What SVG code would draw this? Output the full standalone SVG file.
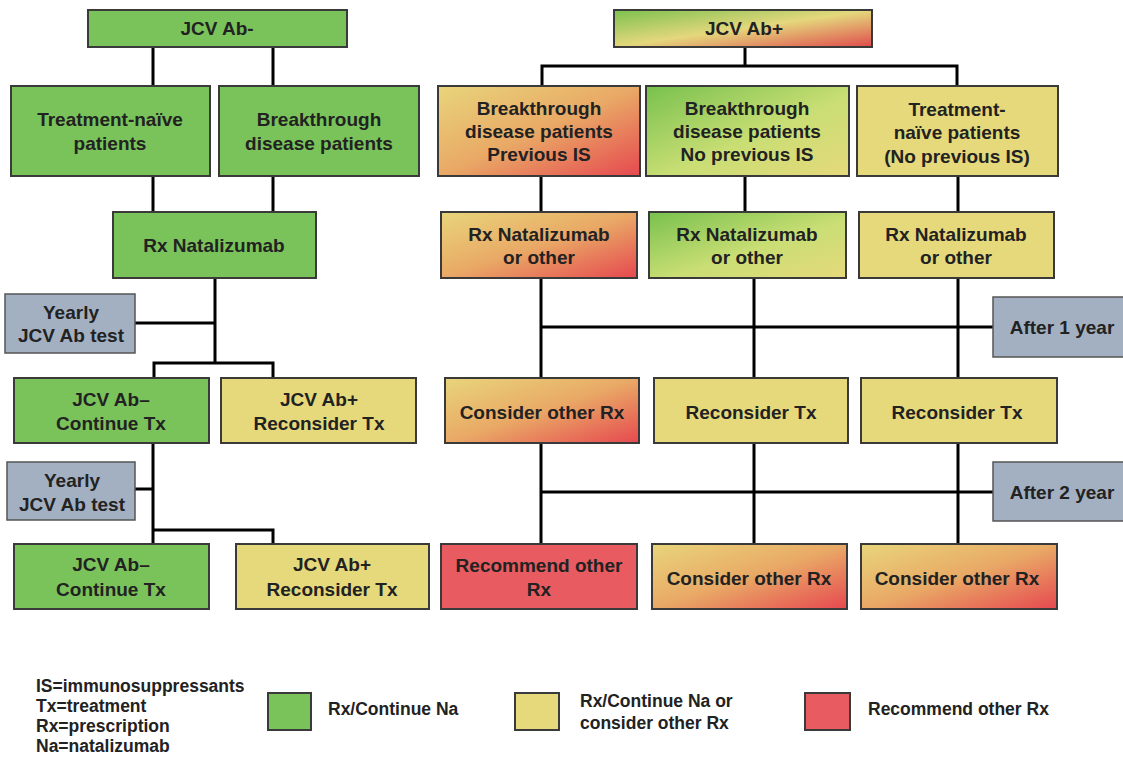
<svg xmlns="http://www.w3.org/2000/svg" width="1123" height="758" viewBox="0 0 1123 758">
<style>
.box{stroke:#3a3a3a;stroke-width:2}
.g{fill:#7AC35B}
.y{fill:#E6D97B}
.r{fill:#E85B60}
.b{fill:#A2B0C1;stroke:#555;stroke-width:1.5}
.t{font-family:"Liberation Sans",Arial,sans-serif;font-weight:bold;font-size:19px;fill:#222;text-anchor:middle}
.l{font-family:"Liberation Sans",Arial,sans-serif;font-weight:bold;font-size:17.5px;fill:#222}
.c{fill:none;stroke:#000;stroke-width:3}
</style>
<defs>
<linearGradient id="gyr" x1="0" y1="0" x2="1" y2="1">
<stop offset="0" stop-color="#7CC14F"/>
<stop offset="0.5" stop-color="#E4D77C"/>
<stop offset="1" stop-color="#E04B4C"/>
</linearGradient>
<linearGradient id="yr" x1="0" y1="0" x2="1" y2="1">
<stop offset="0" stop-color="#E8D57B"/>
<stop offset="0.5" stop-color="#E9A966"/>
<stop offset="1" stop-color="#E6484F"/>
</linearGradient>
<linearGradient id="gy" x1="0" y1="0" x2="1" y2="1">
<stop offset="0" stop-color="#78C14E"/>
<stop offset="0.55" stop-color="#C9DE74"/>
<stop offset="1" stop-color="#E6D97B"/>
</linearGradient>
</defs>
<g id="connectors">
<path class="c" d="M153,47V86M273,47V86"/>
<path class="c" d="M153,176V212M273,176V212"/>
<path class="c" d="M215,278V363M135,323H215M154,378V363H273V378"/>
<path class="c" d="M153,443V544M135,489H153M153,530H273V544"/>
<path class="c" d="M745,47V66M542,86V66H957V86"/>
<path class="c" d="M541,176V212M745,176V212M958,176V212"/>
<path class="c" d="M541,278V378M754,278V378M958,278V378M541,327H994"/>
<path class="c" d="M541,443V544M754,443V544M958,443V544M541,492H994"/>
</g>
<g id="jcv-neg"><rect class="box g" x="88" y="10" width="259" height="37"/><text class="t" x="217" y="35">JCV Ab-</text></g>
<g id="naive-left"><rect class="box g" x="11" y="86" width="199" height="90"/><text class="t" x="110" y="126">Treatment-naïve</text><text class="t" x="110" y="150">patients</text></g>
<g id="breakthrough-left"><rect class="box g" x="219" y="86" width="200" height="90"/><text class="t" x="319" y="126">Breakthrough</text><text class="t" x="319" y="150">disease patients</text></g>
<g id="rx-nat"><rect class="box g" x="113" y="212" width="203" height="66"/><text class="t" x="214" y="252">Rx Natalizumab</text></g>
<g id="yearly1"><rect class="b" x="5" y="294" width="130" height="59"/><text class="t" x="71" y="319">Yearly</text><text class="t" x="71" y="342">JCV Ab test</text></g>
<g id="neg-cont1"><rect class="box g" x="14" y="378" width="195" height="65"/><text class="t" x="111" y="406">JCV Ab–</text><text class="t" x="111" y="430">Continue Tx</text></g>
<g id="pos-recon1"><rect class="box y" x="221" y="378" width="195" height="65"/><text class="t" x="319" y="406">JCV Ab+</text><text class="t" x="319" y="430">Reconsider Tx</text></g>
<g id="yearly2"><rect class="b" x="7" y="462" width="128" height="58"/><text class="t" x="72" y="487">Yearly</text><text class="t" x="72" y="511">JCV Ab test</text></g>
<g id="neg-cont2"><rect class="box g" x="14" y="544" width="195" height="65"/><text class="t" x="111" y="571">JCV Ab–</text><text class="t" x="111" y="596">Continue Tx</text></g>
<g id="pos-recon2"><rect class="box y" x="236" y="544" width="193" height="65"/><text class="t" x="332" y="571">JCV Ab+</text><text class="t" x="332" y="596">Reconsider Tx</text></g>

<g id="jcv-pos"><rect class="box" fill="url(#gyr)" x="614" y="10" width="258" height="37"/><text class="t" x="744" y="35">JCV Ab+</text></g>
<g id="bt-prev"><rect class="box" fill="url(#yr)" x="438" y="86" width="202" height="90"/><text class="t" x="539" y="115">Breakthrough</text><text class="t" x="539" y="138">disease patients</text><text class="t" x="539" y="161">Previous IS</text></g>
<g id="bt-noprev"><rect class="box" fill="url(#gy)" x="646" y="86" width="203" height="90"/><text class="t" x="747" y="115">Breakthrough</text><text class="t" x="747" y="138">disease patients</text><text class="t" x="747" y="161">No previous IS</text></g>
<g id="naive-right"><rect class="box y" x="857" y="86" width="201" height="90"/><text class="t" x="957" y="116">Treatment-</text><text class="t" x="957" y="139">naïve patients</text><text class="t" x="957" y="163">(No previous IS)</text></g>
<g id="rx1"><rect class="box" fill="url(#yr)" x="441" y="212" width="196" height="66"/><text class="t" x="539" y="241">Rx Natalizumab</text><text class="t" x="539" y="264">or other</text></g>
<g id="rx2"><rect class="box" fill="url(#gy)" x="649" y="212" width="197" height="66"/><text class="t" x="747" y="241">Rx Natalizumab</text><text class="t" x="747" y="264">or other</text></g>
<g id="rx3"><rect class="box y" x="859" y="212" width="195" height="66"/><text class="t" x="956" y="241">Rx Natalizumab</text><text class="t" x="956" y="264">or other</text></g>
<g id="after1"><rect class="b" x="993" y="297" width="140" height="60"/><text class="t" x="1062" y="334">After 1 year</text></g>
<g id="r3-1"><rect class="box" fill="url(#yr)" x="445" y="378" width="194" height="65"/><text class="t" x="542" y="419">Consider other Rx</text></g>
<g id="r3-2"><rect class="box y" x="654" y="378" width="194" height="65"/><text class="t" x="751" y="419">Reconsider Tx</text></g>
<g id="r3-3"><rect class="box y" x="861" y="378" width="196" height="65"/><text class="t" x="957" y="419">Reconsider Tx</text></g>
<g id="after2"><rect class="b" x="993" y="462" width="140" height="59"/><text class="t" x="1062" y="499">After 2 year</text></g>
<g id="r4-1"><rect class="box r" x="441" y="544" width="196" height="65"/><text class="t" x="539" y="572">Recommend other</text><text class="t" x="539" y="596">Rx</text></g>
<g id="r4-2"><rect class="box" fill="url(#yr)" x="652" y="544" width="195" height="65"/><text class="t" x="749" y="585">Consider other Rx</text></g>
<g id="r4-3"><rect class="box" fill="url(#yr)" x="861" y="544" width="196" height="65"/><text class="t" x="957" y="585">Consider other Rx</text></g>

<g id="legend">
<text class="l" x="36" y="692">IS=immunosuppressants</text>
<text class="l" x="36" y="712">Tx=treatment</text>
<text class="l" x="36" y="732">Rx=prescription</text>
<text class="l" x="36" y="752">Na=natalizumab</text>
<rect class="box g" x="268" y="693" width="43" height="37"/>
<text class="l" x="328" y="715">Rx/Continue Na</text>
<rect class="box y" x="515" y="693" width="44" height="37"/>
<text class="l" x="580" y="707">Rx/Continue Na or</text>
<text class="l" x="580" y="729">consider other Rx</text>
<rect class="box r" x="805" y="693" width="45" height="37"/>
<text class="l" x="868" y="715">Recommend other Rx</text>
</g>
</svg>
